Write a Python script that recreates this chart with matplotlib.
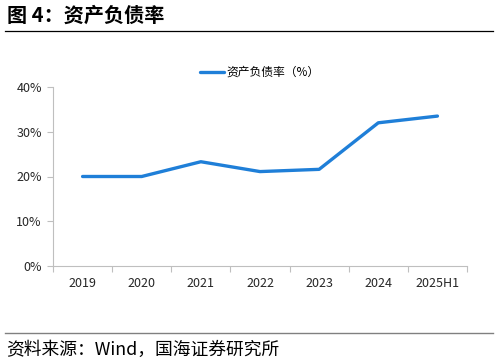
import matplotlib
matplotlib.use("Agg")
import matplotlib.pyplot as plt
from matplotlib.ticker import FuncFormatter, FixedLocator

plt.rcParams['font.family'] = ['Noto Sans CJK SC', 'DejaVu Sans']

# ---- Data ----
years = ["2019", "2020", "2021", "2022", "2023", "2024", "2025H1"]
debt_ratio = [20.0, 20.0, 23.3, 21.1, 21.6, 32.0, 33.5]
series_name = "资产负债率（%）"

title = "图 4：资产负债率"
source = "资料来源：Wind，国海证券研究所"

lineBlue = "#1f7fd8"
axisGray = "#bfbfbf"
textDark = "#262626"

fig = plt.figure(figsize=(4.98, 3.64), dpi=100)

# title + rule
fig.text(7/498, 1 - 15/364, title, fontsize=14.5, fontweight="bold", va="center", ha="left", color="black")
fig.add_artist(plt.Line2D([5/498, 493/498], [1 - 31/364, 1 - 31/364], color="black", lw=0.9))

# source + rule
fig.add_artist(plt.Line2D([5/498, 493/498], [1 - 333/364, 1 - 333/364], color="#808080", lw=1.0))
fig.text(6/498, 1 - 350/364, source, fontsize=12.8, va="center", ha="left", color="black")

# axes: left spine x=53, right x=467; 0% at y=266, 40% at y=87
ax = fig.add_axes([53/498, 1 - 266/364, (467 - 53)/498, (266 - 87)/364])
x = list(range(len(years)))
ax.plot(x, debt_ratio, color=lineBlue, lw=2.4, label=series_name, solid_capstyle="round")

ax.set_xlim(-0.5, len(years) - 0.5)
ax.set_ylim(0, 40)
ax.set_yticks([0, 10, 20, 30, 40])
ax.yaxis.set_major_formatter(FuncFormatter(lambda v, p: f"{v:.0f}%"))
ax.set_xticks(x)
ax.set_xticklabels(years)
ax.xaxis.set_minor_locator(FixedLocator([i - 0.5 for i in range(len(years) + 1)]))
ax.tick_params(axis="x", which="major", length=0, pad=8, labelsize=9, labelcolor=textDark)
ax.tick_params(axis="x", which="minor", length=4, color=axisGray, width=0.8)
ax.tick_params(axis="y", length=4, color=axisGray, width=0.8, labelsize=9, labelcolor=textDark, pad=4)

for s in ["top", "right"]:
    ax.spines[s].set_visible(False)
for s in ["left", "bottom"]:
    ax.spines[s].set_color(axisGray)
    ax.spines[s].set_linewidth(0.8)

ax.legend(loc="lower center", bbox_to_anchor=(0.5, 1.0), frameon=False, fontsize=8.5,
          handlelength=2.0, handletextpad=0.2, borderaxespad=0.3)

fig.savefig("out.png", dpi=100)
